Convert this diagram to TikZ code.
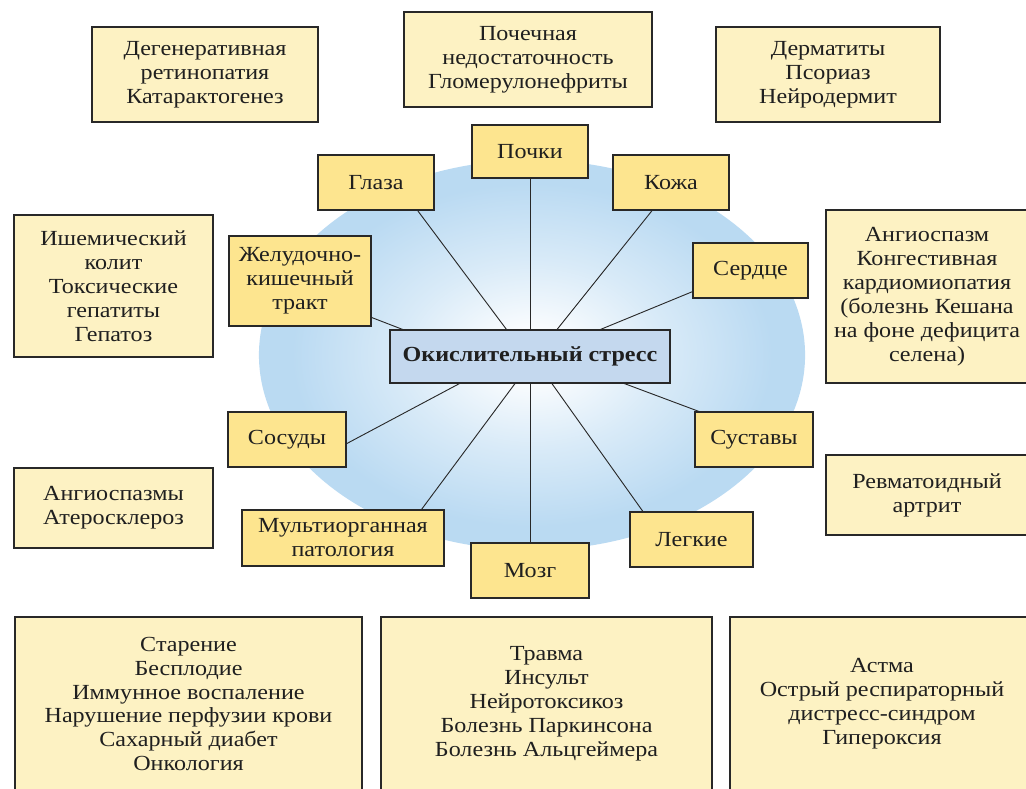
\documentclass[tikz,border=0pt]{standalone}
\usepackage{fontspec}
\setmainfont{Liberation Serif}[FakeStretch=1.12]
\definecolor{organfill}{RGB}{253,229,143}
\definecolor{illfill}{RGB}{253,242,195}
\definecolor{hubfill}{RGB}{196,216,238}
\definecolor{ellblue}{RGB}{186,218,242}
\definecolor{boxedge}{RGB}{40,40,40}
\pgfdeclareradialshading{ellshade}{\pgfpoint{0bp}{0bp}}{color(0bp)=(white); color(2bp)=(white); color(12bp)=(white!45!ellblue); color(22bp)=(ellblue); color(50bp)=(ellblue)}
\tikzstyle{box} = [draw=boxedge, line width=0.8pt, rectangle, align=center, inner sep=2pt, text=black!88, font=\fontsize{15.3}{17}\selectfont]
\tikzstyle{organ} = [box, fill=organfill, minimum width=2.95cm, minimum height=1.375cm]
\tikzstyle{illness} = [box, fill=illfill]
\tikzstyle{hub} = [box, fill=hubfill, font=\fontsize{15.3}{17}\selectfont\bfseries]
\tikzstyle{link} = [draw=boxedge, line width=0.65pt]

\begin{document}
\begin{tikzpicture}[x=0.025cm, y=-0.025cm]
    \useasboundingbox (0,0) rectangle (1026,789);
    \clip (0,0) rectangle (1026,789);
    \shade[shading=ellshade] (532,355) ellipse [x radius=6.825cm, y radius=4.875cm];

    % centre and organs
    \node[hub, minimum width=7cm, minimum height=1.325cm] (stress) at (530,356.5) {Окислительный стресс};
    \node[organ, minimum width=2.9cm, minimum height=1.325cm] (pochki) at (530,151.5) {Почки};
    \node[organ, minimum width=2.9cm] (glaza) at (376,182.5) {Глаза};
    \node[organ, minimum width=2.9cm] (kozha) at (671,182.5) {Кожа};
    \node[organ, minimum width=3.55cm, minimum height=2.25cm] (zhkt) at (300,281) {Желудочно-\\кишечный\\тракт};
    \node[organ, minimum width=2.875cm] (serdce) at (750.5,270.5) {Сердце};
    \node[organ] (sosudy) at (287,439.5) {Сосуды};
    \node[organ] (sustavy) at (754,439.5) {Суставы};
    \node[organ, minimum width=5.05cm, minimum height=1.4cm] (multi) at (343,538) {Мультиорганная\\патология};
    \node[organ] (mozg) at (530,570.5) {Мозг};
    \node[organ, minimum width=3.075cm] (legkie) at (691.5,539.5) {Легкие};

    \draw[link] (stress) -- (pochki);
    \draw[link] (stress.131) -- (glaza.-34);
    \draw[link] (stress.45.5) -- (kozha.-124.6);
    \draw[link] (stress.168.6) -- (zhkt.-27.5);
    \draw[link] (stress.21.6) -- (serdce.-160.7);
    \draw[link] (stress.-159.5) -- (sosudy.-4.3);
    \draw[link] (stress.-119.5) -- (multi.20);
    \draw[link] (stress) -- (mozg);
    \draw[link] (stress.-51.6) -- (legkie.150.4);
    \draw[link] (stress.-16.8) -- (sustavy.153.9);

    % diseases
    \node[illness, minimum width=5.65cm, minimum height=2.375cm] (retina) at (205,74.5) {Дегенеративная\\ретинопатия\\Катарактогенез};
    \node[illness, minimum width=6.2cm, minimum height=2.375cm] (nephro) at (528,59.5) {Почечная\\недостаточность\\Гломерулонефриты};
    \node[illness, minimum width=5.6cm, minimum height=2.375cm] (derma) at (828,74.5) {Дерматиты\\Псориаз\\Нейродермит};
    \node[illness, minimum width=4.975cm, minimum height=3.55cm] (colitis) at (113.5,286) {Ишемический\\колит\\Токсические\\гепатиты\\Гепатоз};
    \node[illness, minimum width=5.05cm, minimum height=4.325cm] (cardio) at (927,296.5) {Ангиоспазм\\Конгестивная\\кардиомиопатия\\(болезнь Кешана\\на фоне дефицита\\селена)};
    \node[illness, minimum width=4.975cm, minimum height=2cm] (athero) at (113.5,508) {Ангиоспазмы\\Атеросклероз};
    \node[illness, minimum width=5.05cm, minimum height=2cm] (arthritis) at (927,495) {Ревматоидный\\артрит};
    \node[illness, minimum width=8.675cm, minimum height=4.35cm] (ageing) at (188.5,704) {Старение\\Бесплодие\\Иммунное воспаление\\Нарушение перфузии крови\\Сахарный диабет\\Онкология};
    \node[illness, minimum width=8.275cm, minimum height=4.35cm] (trauma) at (546.5,704) {Травма\\Инсульт\\Нейротоксикоз\\Болезнь Паркинсона\\Болезнь Альцгеймера};
    \node[illness, minimum width=7.6cm, minimum height=4.35cm] (asthma) at (882,704) {Астма\\Острый респираторный\\дистресс-синдром\\Гипероксия};
\end{tikzpicture}
\end{document}
